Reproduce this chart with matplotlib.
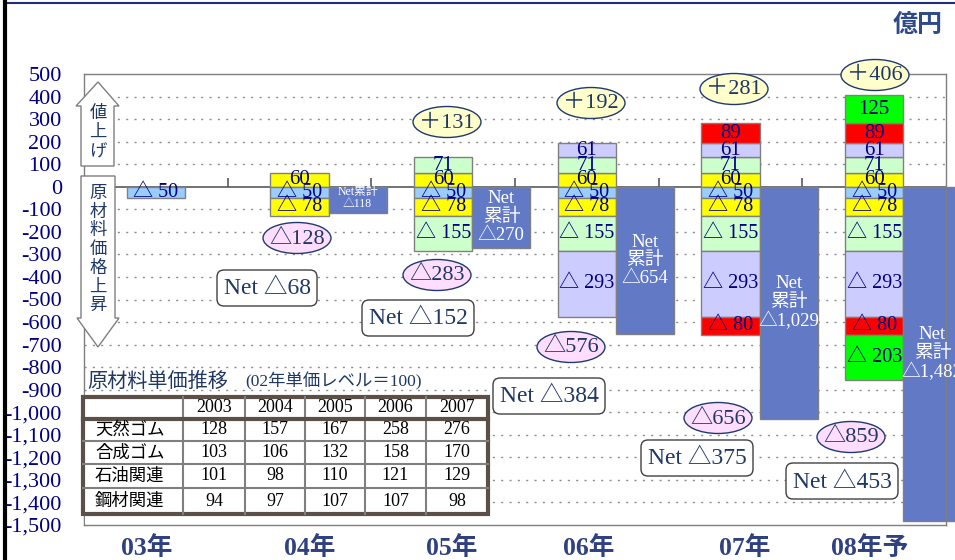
import matplotlib
matplotlib.use("Agg")
import matplotlib.pyplot as plt
import numpy as np
from matplotlib.patches import Polygon, Ellipse, FancyBboxPatch, Rectangle
from matplotlib.lines import Line2D

# ---- data ----
years = ["03年", "04年", "05年", "06年", "07年", "08年予"]

# price increases (値上げ), stacked upwards
plus_yellow = [0, 60, 60, 60, 60, 60]
plus_lgreen = [0, 0, 71, 71, 71, 71]
plus_lavender = [0, 0, 0, 61, 61, 61]
plus_red = [0, 0, 0, 0, 89, 89]
plus_green = [0, 0, 0, 0, 0, 125]

# raw material cost increases (原材料価格上昇), stacked downwards
minus_blue = [50, 50, 50, 50, 50, 50]
minus_yellow = [0, 78, 78, 78, 78, 78]
minus_lgreen = [0, 0, 155, 155, 155, 155]
minus_lavender = [0, 0, 0, 293, 293, 293]
minus_red = [0, 0, 0, 0, 80, 80]
minus_green = [0, 0, 0, 0, 0, 203]

net_cum = [0, 118, 270, 654, 1029, 1482]      # Net累計
plus_total = [0, 0, 131, 192, 281, 406]
minus_total = [0, 128, 283, 576, 656, 859]
net_year = [0, 68, 152, 384, 375, 453]

yticks = list(range(500, -1600, -100))
ytick_labels = [f"{v:,}" for v in yticks]

tbl_cols = ["2003", "2004", "2005", "2006", "2007"]
tbl_rows = ["天然ゴム", "合成ゴム", "石油関連", "鋼材関連"]
natural_rubber = [128, 157, 167, 258, 276]
synthetic_rubber = [103, 106, 132, 158, 170]
petro_related = [101, 98, 110, 121, 129]
steel_related = [94, 97, 107, 107, 98]

# ---- styles ----
SERIF = ["Liberation Serif", "Noto Sans CJK JP"]
SANS = ["Noto Sans CJK JP", "DejaVu Sans"]
NAVY = "#000080"
DARK = "#1F3864"
EDGE = "#808080"
plus_colors = ["#FFFF00", "#CCFFCC", "#CCCCFF", "#FF0000", "#00FF00"]
minus_colors = ["#99CCFF", "#FFFF00", "#CCFFCC", "#CCCCFF", "#FF0000", "#00FF00"]
NET_COLOR = "#6279C5"

W, H = 955, 560
fig = plt.figure(figsize=(W / 100, H / 100), dpi=100)
ax = fig.add_axes([84 / W, 1 - 525 / H, (946 - 84) / W, (525 - 74) / H])
ax.set_xlim(-0.5, 5.5)
ax.set_ylim(-1500, 500)

x = np.arange(len(years))
w = 0.405

# grid
for v in range(-1400, 500, 100):
    if v != 0:
        ax.axhline(v, color="#8C8C8C", lw=1, ls=(0, (1.5, 4.5)), zorder=0.5)
ax.axhline(0, color="#595959", lw=1.2, zorder=1.5)
ax.vlines(x[:-1] + 0.5, 0, 38, color="#595959", lw=1.2, zorder=1.5)

# stacked positive bars
bottom = np.zeros(len(x))
for vals, col in zip([plus_yellow, plus_lgreen, plus_lavender, plus_red, plus_green], plus_colors):
    vals = np.array(vals, dtype=float)
    m = vals > 0
    ax.bar(x[m], vals[m], w, bottom=bottom[m], color=col, edgecolor=EDGE, lw=1, zorder=2)
    for xi, b, v in zip(x[m], bottom[m], vals[m]):
        ax.text(xi, b + v / 2, f"{int(v)}", ha="center", va="center", fontsize=15,
                color=NAVY, family=SERIF, zorder=4)
    bottom = bottom + vals

# stacked negative bars
bottom = np.zeros(len(x))
for vals, col in zip([minus_blue, minus_yellow, minus_lgreen, minus_lavender, minus_red, minus_green], minus_colors):
    vals = np.array(vals, dtype=float)
    m = vals > 0
    ax.bar(x[m], -vals[m], w, bottom=bottom[m], color=col, edgecolor=EDGE, lw=1, zorder=2)
    for xi, b, v in zip(x[m], bottom[m], vals[m]):
        ax.text(xi, b - v / 2, f"△ {int(v)}", ha="center", va="center", fontsize=14.5,
                color=NAVY, family=SERIF, zorder=4)
    bottom = bottom - vals

# cumulative net bars
net = np.array(net_cum, dtype=float)
m = net > 0
bars = ax.bar(x[m] + w, -net[m], w, color=NET_COLOR, edgecolor=EDGE, lw=1, zorder=2)
bars[-1].set_clip_on(False)
for xi, v in zip(x[m], net[m]):
    if v < 200:
        ax.text(xi + w, -v / 2 + 8, f"Net累計\n△{int(v):,}", ha="center", va="center",
                fontsize=8.5, color="white", family=SERIF, linespacing=1.0, zorder=4)
    else:
        ax.text(xi + w, -v / 2, f"Net\n累計\n△{int(v):,}", ha="center", va="center",
                fontsize=13.5, color="white", family=SERIF, linespacing=1.1, zorder=4,
                clip_on=False)

# axes styling
for s in ax.spines.values():
    s.set_color("#7F7F7F")
    s.set_linewidth(1)
ax.set_yticks(yticks)
ax.set_yticklabels(ytick_labels, family=SERIF, fontsize=16, color=NAVY)
ax.set_xticks(x + np.array([-0.06, 0.07, 0.06, 0.01, 0.10, -0.03]))
ax.set_xticklabels(years, family=SERIF, fontsize=18.5, fontweight="bold", color="#2F4181")
ax.tick_params(axis="y", length=0, pad=16)
ax.tick_params(axis="x", length=0, pad=8)

# ---- overlay in pixel coordinates ----
ov = fig.add_axes([0, 0, 1, 1], zorder=5)
ov.set_xlim(0, W)
ov.set_ylim(H, 0)
ov.axis("off")
ov.patch.set_alpha(0)

# side arrows
ov.add_patch(Polygon([(98, 82), (119, 106), (114, 106), (114, 166), (81, 166), (81, 106), (76, 106)],
                     closed=True, fc="white", ec="#7F7F7F", lw=1))
ov.add_patch(Polygon([(81, 176), (115, 176), (115, 318), (119, 318), (98, 347), (77, 318), (81, 318)],
                     closed=True, fc="white", ec="#7F7F7F", lw=1))
for i, ch in enumerate("値上げ"):
    ov.text(98, 113 + i * 19, ch, ha="center", va="center", fontsize=12.5, color=DARK, family=SANS)
for i, ch in enumerate("原材料価格上昇"):
    ov.text(98, 193 + i * 18.7, ch, ha="center", va="center", fontsize=12.5, color=DARK, family=SANS)

# total ellipses
plus_xy = [None, None, (447, 122), (591, 103), (734, 89), (875, 75)]
minus_xy = [None, (297, 238), (437, 275), (571, 347), (718, 418), (851, 437)]
for v, xy in zip(plus_total, plus_xy):
    if v:
        ov.add_patch(Ellipse(xy, 68, 31, fc="#FFFFCC", ec="#1F3A6E", lw=1))
        ov.text(xy[0], xy[1] + 1, f"＋{v}", ha="center", va="center", fontsize=16,
                color=DARK, family=SERIF)
for v, xy in zip(minus_total, minus_xy):
    if v:
        ov.add_patch(Ellipse(xy, 68, 31, fc="#FFDDFF", ec="#1F3A6E", lw=1))
        ov.text(xy[0], xy[1] + 1, f"△{v}", ha="center", va="center", fontsize=16,
                color=DARK, family=SERIF)

# yearly net boxes
net_xy = [None, (267, 288), (418, 318), (549, 396), (697, 458), (842, 481)]
for v, xy in zip(net_year, net_xy):
    if v:
        bw = 100 if v < 100 else 112
        ov.add_patch(FancyBboxPatch((xy[0] - bw / 2, xy[1] - 18), bw, 36,
                                    boxstyle="round,pad=0,rounding_size=7",
                                    fc="white", ec="#404040", lw=1))
        ov.text(xy[0], xy[1] + 1, f"Net △{v}", ha="center", va="center", fontsize=17,
                color=DARK, family=SERIF)

# table of unit prices
ov.add_patch(Rectangle((85, 392), 405, 132, fc="white", ec="none"))
ov.text(87, 381, "原材料単価推移", ha="left", va="center", fontsize=14.5, color=DARK, family=SANS)
ov.text(245, 381, "(02年単価レベル＝100)", ha="left", va="center", fontsize=12.5,
        color=DARK, family=SERIF)
col_edges = [83, 183, 245, 305, 365, 426, 488]
row_edges = [397, 419, 441, 464, 488, 514]
TC = "#5A5048"
for xe in col_edges[1:-1]:
    ov.plot([xe, xe], [row_edges[0], row_edges[-1]], color="#7F7F7F", lw=1.5)
for ye in row_edges[2:-1]:
    ov.plot([col_edges[0], col_edges[-1]], [ye, ye], color="#7F7F7F", lw=1.5)
ov.plot([col_edges[0], col_edges[-1]], [row_edges[1]] * 2, color=TC, lw=3)
ov.add_patch(Rectangle((col_edges[0], row_edges[0]), col_edges[-1] - col_edges[0],
                       row_edges[-1] - row_edges[0], fc="none", ec=TC, lw=3))
for j, c in enumerate(tbl_cols):
    cx = (col_edges[j + 1] + col_edges[j + 2]) / 2
    ov.text(cx, (row_edges[0] + row_edges[1]) / 2, c, ha="center", va="center",
            fontsize=13, color="black", family=SERIF)
for i, (name, vals) in enumerate(zip(tbl_rows, [natural_rubber, synthetic_rubber, petro_related, steel_related])):
    cy = (row_edges[i + 1] + row_edges[i + 2]) / 2
    ov.text(95, cy, name, ha="left", va="center", fontsize=12.5, color="black", family=SANS)
    for j, v in enumerate(vals):
        cx = (col_edges[j + 1] + col_edges[j + 2]) / 2
        ov.text(cx, cy, str(v), ha="center", va="center", fontsize=13, color="black", family=SERIF)

# unit and page frame
ov.text(918, 25, "億円", ha="center", va="center", fontsize=18, fontweight="bold",
        color="#2F4A8A", family=SANS)
fig.add_artist(Line2D([5 / W, 1], [1 - 3 / H, 1 - 3 / H], color="#1F2F7F", lw=1.5))
fig.add_artist(Line2D([5 / W, 5 / W], [0, 1], color="black", lw=3))

fig.savefig("out.png", dpi=100)
